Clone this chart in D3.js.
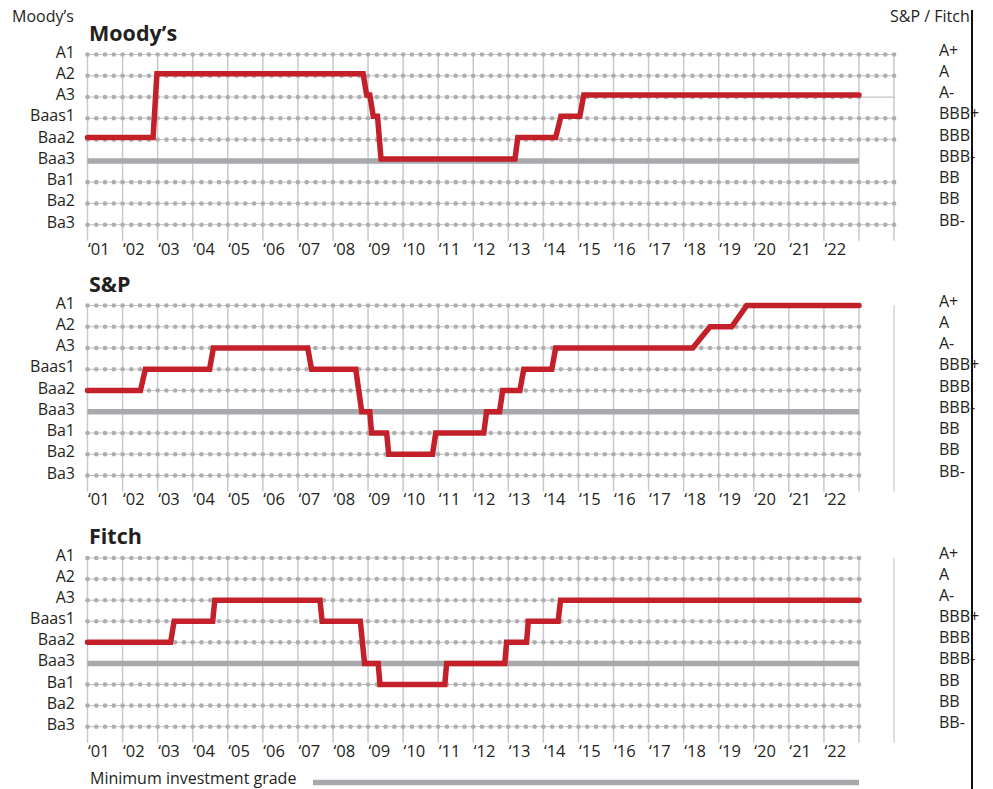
<!DOCTYPE html>
<html>
<head>
<meta charset="utf-8">
<script src="https://cdn.jsdelivr.net/npm/d3@7"></script>
<style>
  html, body { margin: 0; padding: 0; background: #fff; }
  svg { display: block; }
  text { font-family: "Open Sans", Lato, sans-serif; fill: #231f20; }
</style>
</head>
<body>
<svg id="chart" width="993" height="789"></svg>
<script>
// ---------------- DATA ----------------
const moodysScale = ["A1", "A2", "A3", "Baas1", "Baa2", "Baa3", "Ba1", "Ba2", "Ba3"];
const spFitchScale = ["A+", "A", "A-", "BBB+", "BBB", "BBB-", "BB", "BB", "BB-"];
const yearTicks = d3.range(2001, 2023);              // 2001 … 2022
const yearLabels = ["‘01","‘02","‘03","‘04","‘05","‘06","‘07","‘08","‘09","‘10","‘11",
                    "‘12","‘13","‘14","‘15","‘16","‘17","‘18","‘19","‘20","‘21","‘22"];
const minInvestmentGrade = "Baa3";

// rating history: [year (fractional), Moody's-scale rating]
const moodysHistory = [
  [2001.00, "Baa2"], [2002.87, "Baa2"], [2002.98, "A2"], [2008.86, "A2"],
  [2008.96, "A3"], [2009.05, "A3"], [2009.15, "Baas1"], [2009.27, "Baas1"],
  [2009.37, "Baa3"], [2013.19, "Baa3"], [2013.27, "Baa2"], [2014.35, "Baa2"],
  [2014.50, "Baas1"], [2015.04, "Baas1"], [2015.15, "A3"], [2023.00, "A3"]
];
const spHistory = [
  [2001.00, "Baa2"], [2002.51, "Baa2"], [2002.65, "Baas1"], [2004.48, "Baas1"],
  [2004.59, "A3"], [2007.28, "A3"], [2007.39, "Baas1"], [2008.65, "Baas1"],
  [2008.82, "Baa3"], [2009.05, "Baa3"], [2009.10, "Ba1"], [2009.53, "Ba1"],
  [2009.59, "Ba2"], [2010.84, "Ba2"], [2010.93, "Ba1"], [2012.30, "Ba1"],
  [2012.38, "Baa3"], [2012.75, "Baa3"], [2012.84, "Baa2"], [2013.33, "Baa2"],
  [2013.44, "Baas1"], [2014.24, "Baas1"], [2014.35, "A3"], [2018.26, "A3"],
  [2018.75, "A2"], [2019.37, "A2"], [2019.80, "A1"], [2023.00, "A1"]
];
const fitchHistory = [
  [2001.00, "Baa2"], [2003.37, "Baa2"], [2003.47, "Baas1"], [2004.57, "Baas1"],
  [2004.63, "A3"], [2007.63, "A3"], [2007.69, "Baas1"], [2008.78, "Baas1"],
  [2008.90, "Baa3"], [2009.29, "Baa3"], [2009.34, "Ba1"], [2011.19, "Ba1"],
  [2011.24, "Baa3"], [2012.90, "Baa3"], [2012.95, "Baa2"], [2013.52, "Baa2"],
  [2013.57, "Baas1"], [2014.42, "Baas1"], [2014.49, "A3"], [2023.00, "A3"]
];
const panelTitles = ["Moody’s", "S&P", "Fitch"];

// ---------------- LAYOUT ----------------
const svg = d3.select("#chart");
const RED = "#c4202a", GREY = "#a7a9ac", GRID = "#c9c9c9", DOT = "#aeaeae";

const x = d3.scaleLinear().domain([2001, 2023]).range([87.5, 859]);

const panels = [
  { title: panelTitles[0], data: moodysHistory, top: 54.5, bottom: 224.7, titleY: 41, tickY: 255, extend: true,  redOffset: -2 },
  { title: panelTitles[1], data: spHistory,     top: 305.5, bottom: 475.5, titleY: 292, tickY: 505, extend: false, redOffset: 0 },
  { title: panelTitles[2], data: fitchHistory,  top: 558,   bottom: 726.7, titleY: 544, tickY: 757, extend: false, redOffset: 0 }
];

// header labels
svg.append("text").attr("x", 12).attr("y", 22).attr("font-size", 16).text("Moody’s");
svg.append("text").attr("x", 890).attr("y", 22).attr("font-size", 16).text("S&P / Fitch");

panels.forEach(p => {
  const y = d3.scalePoint().domain(moodysScale).range([p.top, p.bottom]);
  const g = svg.append("g");
  const quarters = d3.range(2001, (p.extend ? 2024 : 2023) + 0.001, 0.25);

  // vertical grid lines (years)
  const vYears = d3.range(2001, p.extend ? 2025 : 2024);
  g.selectAll("line.v").data(vYears).join("line")
    .attr("x1", d => x(d)).attr("x2", d => x(d))
    .attr("y1", p.top).attr("y2", p.bottom + 16)
    .attr("stroke", GRID).attr("stroke-width", 1.5);
  if (!p.extend) {
    g.append("line")
      .attr("x1", x(2024)).attr("x2", x(2024))
      .attr("y1", p.top).attr("y2", p.bottom + 16)
      .attr("stroke", "#d4d4d4").attr("stroke-width", 1.5);
  }

  // dotted rating rows
  const rows = moodysScale.filter(r => r !== minInvestmentGrade);
  rows.forEach(r => {
    const dotsEnd = (p.extend && r !== "A3") ? 2024 : 2023;
    g.append("line")
      .attr("x1", x(2001)).attr("x2", x(dotsEnd))
      .attr("y1", y(r)).attr("y2", y(r))
      .attr("stroke", "#c4c4c4").attr("stroke-width", 1);
    g.selectAll(null).data(quarters.filter(q => q <= dotsEnd)).join("circle")
      .attr("cx", d => x(d)).attr("cy", y(r)).attr("r", 2.3)
      .attr("fill", DOT);
    if (p.extend && r === "A3") {
      g.append("line")
        .attr("x1", x(2023)).attr("x2", x(2024))
        .attr("y1", y(r)).attr("y2", y(r))
        .attr("stroke", "#c4c4c4").attr("stroke-width", 1.2);
    }
  });

  // minimum investment grade line
  g.append("line")
    .attr("x1", x(2001)).attr("x2", x(2023))
    .attr("y1", y(minInvestmentGrade)).attr("y2", y(minInvestmentGrade))
    .attr("stroke", GREY).attr("stroke-width", 5.5);

  // rating history line
  const line = d3.line().x(d => x(d[0])).y(d => y(d[1]) + p.redOffset);
  g.append("path").datum(p.data).attr("d", line)
    .attr("fill", "none").attr("stroke", RED).attr("stroke-width", 5.5)
    .attr("stroke-linejoin", "miter").attr("stroke-linecap", "round");

  // left labels (Moody's scale)
  g.selectAll("text.l").data(moodysScale).join("text")
    .attr("x", 75).attr("y", d => y(d) + 3)
    .attr("text-anchor", "end").attr("font-size", 16).text(d => d);

  // right labels (S&P / Fitch scale)
  g.selectAll("text.r").data(spFitchScale).join("text")
    .attr("x", 939).attr("y", (d, i) => y(moodysScale[i]) + 1)
    .attr("font-size", 16).text(d => d);

  // x tick labels
  g.selectAll("text.t").data(yearTicks).join("text")
    .attr("x", d => x(d) + 0.5).attr("y", p.tickY)
    .attr("font-size", 16.5).text((d, i) => yearLabels[i]);

  // panel title
  g.append("text").attr("x", 89).attr("y", p.titleY)
    .attr("font-size", 21.5).attr("font-weight", 700).text(p.title);
});

// legend
svg.append("text").attr("x", 90).attr("y", 784).attr("font-size", 16).text("Minimum investment grade");
svg.append("line").attr("x1", 313).attr("x2", x(2023)).attr("y1", 782.5).attr("y2", 782.5)
  .attr("stroke", GREY).attr("stroke-width", 5.5);

// right black rule (drawn over labels)
svg.append("line").attr("x1", 972).attr("x2", 972).attr("y1", 10).attr("y2", 789)
  .attr("stroke", "#111").attr("stroke-width", 2);
</script>
</body>
</html>
